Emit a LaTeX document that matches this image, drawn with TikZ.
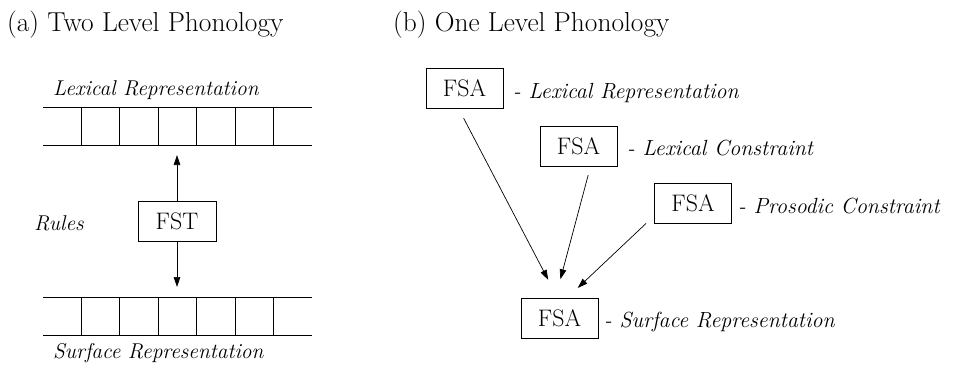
\documentclass[tikz,border=0pt]{standalone}
\usetikzlibrary{arrows.meta}
\begin{document}
\begin{tikzpicture}[x=1bp,y=-1bp,
  arr/.style={-{Triangle[length=10bp,width=6.5bp]}, line width=0.7bp},
  tapeline/.style={line width=0.8bp},
  fbox/.style={draw, line width=0.8bp, minimum width=77bp, minimum height=40bp, inner sep=0pt, font=\fontsize{24}{28}\selectfont},
  lbl/.style={anchor=base west, inner sep=0pt, font=\fontsize{22}{26}\selectfont\itshape},
  llbl/.style={anchor=base west, inner sep=0pt, font=\fontsize{21.5}{26}\selectfont\itshape},
  head/.style={anchor=base west, inner sep=0pt, font=\fontsize{27.5}{32}\selectfont}]
\useasboundingbox (0,0) rectangle (955,369);
% headers
\node[head] (ha) at (7,31) {(a) Two Level Phonology};
\node[head] (hb) at (393,31) {(b) One Level Phonology};
% (a) tapes
\node[llbl] (lexlab) at (53,95) {Lexical Representation};
\draw[tapeline] (43,107) -- (312,107) (43,145) -- (312,145);
\foreach \i in {1,...,6} \draw[tapeline] (43+38.4*\i,107) -- (43+38.4*\i,145);
\draw[tapeline] (43,297) -- (312,297) (43,335) -- (312,335);
\foreach \i in {1,...,6} \draw[tapeline] (43+38.4*\i,297) -- (43+38.4*\i,335);
\node[llbl] (surflab) at (53,358) {Surface Representation};
\node[fbox, minimum width=78bp] (fst) at (177,221) {FST};
\node[llbl] (rules) at (34,230) {Rules};
\coordinate (lexin) at (177,155);
\coordinate (surfin) at (177,287);
\draw[arr] (fst.north) -- (lexin);
\draw[arr] (fst.south) -- (surfin);
% (b)
\node[fbox] (f1) at (464.5,88) {FSA};
\node[lbl] (t1) at (513,98) {- Lexical Representation};
\node[fbox] (f2) at (578.5,146) {FSA};
\node[lbl] (t2) at (627,155) {- Lexical Constraint};
\node[fbox] (f3) at (693,203) {FSA};
\node[lbl] (t3) at (738,213) {- Prosodic Constraint};
\node[fbox] (f4) at (559.5,318) {FSA};
\node[lbl] (t4) at (604,327) {- Surface Representation};
\draw[arr, shorten <=11bp, shorten >=20bp] ([xshift=-6bp]f1.south) -- ([xshift=-2bp]f4.north);
\draw[arr, shorten <=9bp, shorten >=19bp] ([xshift=12bp]f2.south) -- ([xshift=-4bp]f4.north);
\draw[arr, shorten >=14bp] ([xshift=-8bp]f3.south west) -- ([xshift=8bp]f4.north);
\end{tikzpicture}
\end{document}
